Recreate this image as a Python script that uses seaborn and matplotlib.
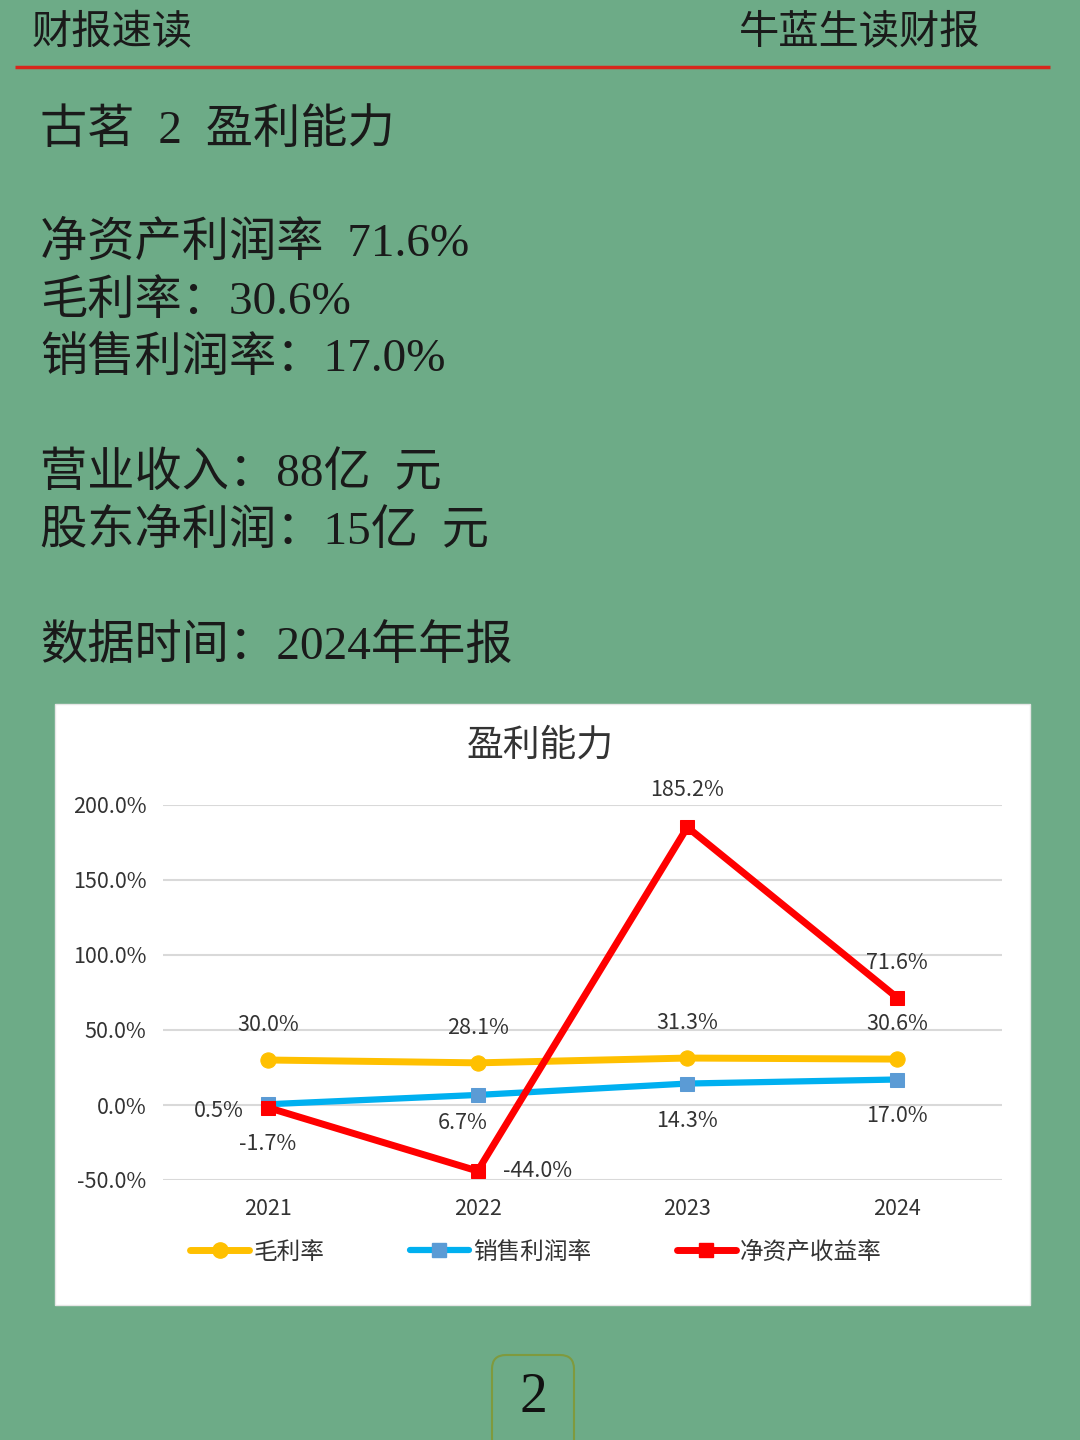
import pandas as pd
import numpy as np
import seaborn as sns
import matplotlib.pyplot as plt
from matplotlib.lines import Line2D
from matplotlib.patches import Rectangle, FancyBboxPatch

sns.set_theme(style='white')
plt.rcParams['font.family'] = ['Noto Sans CJK SC', 'DejaVu Sans']
plt.rcParams['axes.unicode_minus'] = False

# data
years = ['2021', '2022', '2023', '2024']
gross_margin = [30.0, 28.1, 31.3, 30.6]      # 毛利率
sales_margin = [0.5, 6.7, 14.3, 17.0]        # 销售利润率
roe = [-1.7, -44.0, 185.2, 71.6]             # 净资产收益率
yticks = [-50, 0, 50, 100, 150, 200]

header_left = '财报速读'
header_right = '牛蓝生读财报'
body_lines = ['古茗  2  盈利能力',
              '净资产利润率  71.6%',
              '毛利率：30.6%',
              '销售利润率：17.0%',
              '营业收入：88亿  元',
              '股东净利润：15亿  元',
              '数据时间：2024年年报']
chart_title = '盈利能力'
page_no = '2'

BG = '#6dab87'
YEL = '#ffc000'
BLUE = '#00b0f0'
BLUE_MK = '#5b9bd5'
RED = '#ff0000'
TXT = '#333333'

df = pd.DataFrame({'x': np.arange(len(years)), 'year': years,
                   'gm': gross_margin, 'sm': sales_margin, 'roe': roe})

fig = plt.figure(figsize=(10.8, 14.4), dpi=100)
fig.patch.set_facecolor(BG)

# background layer in pixel coords
bg = fig.add_axes([0, 0, 1, 1], zorder=0)
bg.set_xlim(0, 1080)
bg.set_ylim(1440, 0)
bg.axis('off')

bg.text(32, 32, header_left, fontsize=29, color='#1a1a1a', va='center', ha='left', fontweight='light')
bg.text(980, 32, header_right, fontsize=29, color='#1a1a1a', va='center', ha='right', fontweight='light')
bg.plot([15, 1050], [67, 67], color='#d8261c', lw=2.5, solid_capstyle='butt')

serif_cjk = ['Liberation Serif', 'Noto Sans CJK SC']
ys = [131, 244, 302, 359, 474, 532, 647]
for t, y in zip(body_lines, ys):
    bg.text(40, y, t, fontsize=34, color='#1a1a1a', va='center', ha='left',
            family=serif_cjk, fontweight='light')

bg.add_patch(Rectangle((55, 704), 975, 601, facecolor='white', edgecolor='#e6e6e6', lw=1))
bg.text(540, 745, chart_title, fontsize=26.5, color=TXT, ha='center', va='center')

bg.add_patch(FancyBboxPatch((492, 1355), 82, 110, boxstyle='round,pad=0,rounding_size=14',
                            facecolor='none', edgecolor='#7f9a3e', lw=1.5, clip_on=False))
bg.text(533, 1398, page_no, fontsize=40, color='#111111', ha='center', va='center',
        family=['Liberation Serif'])

# chart
ax = fig.add_axes([163 / 1080, 1 - 1180 / 1440, 839 / 1080, 375 / 1440], zorder=1)
ax.set_facecolor('none')

sns.lineplot(data=df, x='x', y='gm', ax=ax, color=YEL, lw=5, marker='o', markersize=11,
             markeredgecolor=YEL, markerfacecolor=YEL, zorder=3)
sns.lineplot(data=df, x='x', y='sm', ax=ax, color=BLUE, lw=4.5, marker='s', markersize=10,
             markeredgecolor=BLUE_MK, markerfacecolor=BLUE_MK, zorder=3)
sns.lineplot(data=df, x='x', y='roe', ax=ax, color=RED, lw=5, marker='s', markersize=10,
             markeredgecolor=RED, markerfacecolor=RED, zorder=4)

ax.set_xlim(-0.5, len(years) - 0.5)
ax.set_ylim(-50, 200)
ax.set_yticks(yticks)
ax.set_yticklabels([f'{v:.1f}%' for v in yticks])
ax.set_xticks(df['x'])
ax.set_xticklabels(years)
ax.set_xlabel('')
ax.set_ylabel('')
ax.grid(axis='y', color='#d9d9d9', lw=1.5)
ax.set_axisbelow(True)
for s in ax.spines.values():
    s.set_visible(False)
ax.tick_params(axis='y', length=0, pad=12, labelsize=15.5, labelcolor=TXT)
ax.tick_params(axis='x', length=0, pad=13, labelsize=15.5, labelcolor=TXT)

def lab(x, y, v, dx, dy):
    ax.annotate(f'{v:.1f}%', (x, y), xytext=(dx, dy), textcoords='offset points',
                ha='center', va='center', fontsize=15.5, color=TXT, annotation_clip=False, zorder=5)

for i, v in enumerate(gross_margin):
    lab(i, v, v, 0, 25)
sm_off = [(-35, -5), (-11, -20), (0, -27), (0, -26)]
for i, v in enumerate(sales_margin):
    lab(i, v, v, *sm_off[i])
roe_off = [(0, -26), (43, 0), (0, 27), (0, 25)]
for i, v in enumerate(roe):
    lab(i, v, v, *roe_off[i])

handles = [Line2D([], [], color=YEL, lw=5, marker='o', markersize=11),
           Line2D([], [], color=BLUE, lw=4.5, marker='s', markersize=10,
                  markerfacecolor=BLUE_MK, markeredgecolor=BLUE_MK),
           Line2D([], [], color=RED, lw=5, marker='s', markersize=10)]
leg = fig.legend(handles, ['毛利率', '销售利润率', '净资产收益率'], loc='center',
                 bbox_to_anchor=(536 / 1080, 1 - 1252 / 1440), ncol=3, frameon=False,
                 fontsize=17, handlelength=2.5, columnspacing=3.6, handletextpad=0.2)
for t in leg.get_texts():
    t.set_color(TXT)

fig.savefig('out.png', dpi=100, facecolor=BG)
